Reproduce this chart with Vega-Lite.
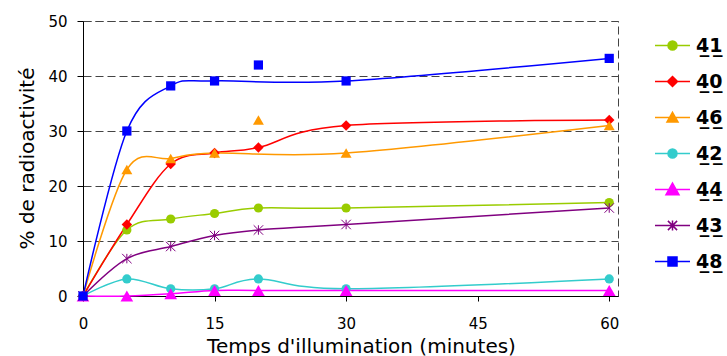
{
  "$schema": "https://vega.github.io/schema/vega-lite/v6.json",
  "width": 535,
  "height": 275,
  "autosize": {"type": "none"},
  "padding": {"left": 83, "top": 21, "right": 109, "bottom": 60},
  "background": "white",
  "config": {
    "view": {"stroke": "#444444", "strokeDash": [8, 4], "strokeWidth": 1},
    "font": "DejaVu Sans"
  },
  "data": {
    "values": [
      {"s": "41", "t": 0, "v": 0, "f": 0},
      {"s": "41", "t": 5, "v": 12, "f": 12},
      {"s": "41", "t": 10, "v": 14, "f": 14},
      {"s": "41", "t": 15, "v": 15, "f": 15},
      {"s": "41", "t": 20, "v": 16, "f": 16},
      {"s": "41", "t": 30, "v": 16, "f": 16},
      {"s": "41", "t": 60, "v": 17, "f": 17},
      {"s": "40", "t": 0, "v": 0, "f": 0},
      {"s": "40", "t": 5, "v": 13, "f": 13},
      {"s": "40", "t": 10, "v": 24, "f": 24},
      {"s": "40", "t": 15, "v": 26, "f": 26},
      {"s": "40", "t": 20, "v": 27, "f": 27},
      {"s": "40", "t": 30, "v": 31, "f": 31},
      {"s": "40", "t": 60, "v": 32, "f": 32},
      {"s": "46", "t": 0, "v": 0, "f": 0},
      {"s": "46", "t": 5, "v": 23, "f": 23},
      {"s": "46", "t": 10, "v": 25, "f": 25},
      {"s": "46", "t": 15, "v": 26, "f": 26},
      {"s": "46", "t": 20, "v": 32, "f": null},
      {"s": "46", "t": 30, "v": 26, "f": 26},
      {"s": "46", "t": 60, "v": 31, "f": 31},
      {"s": "42", "t": 0, "v": 0, "f": 0},
      {"s": "42", "t": 5, "v": 3.1, "f": 3.1},
      {"s": "42", "t": 10, "v": 1.3, "f": 1.3},
      {"s": "42", "t": 15, "v": 1.3, "f": 1.3},
      {"s": "42", "t": 20, "v": 3.1, "f": 3.1},
      {"s": "42", "t": 30, "v": 1.3, "f": 1.3},
      {"s": "42", "t": 60, "v": 3.1, "f": 3.1},
      {"s": "44", "t": 0, "v": 0, "f": 0},
      {"s": "44", "t": 5, "v": 0, "f": 0},
      {"s": "44", "t": 10, "v": 0.4, "f": 0.4},
      {"s": "44", "t": 15, "v": 1, "f": 1},
      {"s": "44", "t": 20, "v": 1, "f": 1},
      {"s": "44", "t": 30, "v": 1, "f": 1},
      {"s": "44", "t": 60, "v": 1, "f": 1},
      {"s": "43", "t": 0, "v": 0, "f": 0},
      {"s": "43", "t": 5, "v": 6.8, "f": 6.8},
      {"s": "43", "t": 10, "v": 9, "f": 9},
      {"s": "43", "t": 15, "v": 11, "f": 11},
      {"s": "43", "t": 20, "v": 12, "f": 12},
      {"s": "43", "t": 30, "v": 13, "f": 13},
      {"s": "43", "t": 60, "v": 16, "f": 16},
      {"s": "48", "t": 0, "v": 0, "f": 0},
      {"s": "48", "t": 5, "v": 30, "f": 30},
      {"s": "48", "t": 10, "v": 38.2, "f": 38.2},
      {"s": "48", "t": 15, "v": 39.1, "f": 39.1},
      {"s": "48", "t": 20, "v": 42, "f": null},
      {"s": "48", "t": 30, "v": 39.1, "f": 39.1},
      {"s": "48", "t": 60, "v": 43.2, "f": 43.2}
    ]
  },
  "encoding": {
    "x": {
      "field": "t", "type": "quantitative",
      "scale": {"domain": [0, 61], "nice": false, "zero": false},
      "axis": {
        "values": [0, 15, 30, 45, 60],
        "grid": false,
        "domainColor": "#000000", "domainWidth": 1,
        "tickColor": "#000000", "tickSize": 5,
        "labelFont": "DejaVu Sans", "labelFontSize": 15, "labelColor": "#000000",
        "labelPadding": 15, "labelFlush": false,
        "title": "Temps d'illumination (minutes)",
        "titleFont": "DejaVu Sans", "titleFontSize": 20, "titleFontWeight": "normal", "titleColor": "#000000",
        "titleX": 278, "titleY": 56, "titleBaseline": "alphabetic", "titleAlign": "center"
      }
    },
    "y": {
      "field": "v", "type": "quantitative",
      "scale": {"domain": [0, 50], "nice": false},
      "axis": {
        "values": [0, 10, 20, 30, 40, 50],
        "grid": true, "gridDash": [8, 4], "gridColor": "#444444", "gridWidth": 1, "gridOpacity": 1,
        "domainColor": "#000000", "domainWidth": 1,
        "tickColor": "#000000", "tickSize": 6,
        "labelFont": "DejaVu Sans", "labelFontSize": 15, "labelColor": "#000000",
        "labelPadding": 10,
        "title": "% de radioactivité",
        "titleFont": "DejaVu Sans", "titleFontSize": 20, "titleFontWeight": "normal", "titleColor": "#000000",
        "titleX": -50, "titleY": 137, "titleBaseline": "alphabetic", "titleAlign": "center", "titleAngle": 270
      }
    },
    "color": {
      "field": "s", "type": "nominal",
      "scale": {
        "domain": ["41", "40", "46", "42", "44", "43", "48"],
        "range": ["#99CC00", "#FF0000", "#FF9900", "#33CCCC", "#FF00FF", "#800080", "#0000FF"]
      },
      "legend": {
        "orient": "none", "legendX": 580, "legendY": 15,
        "title": null,
        "symbolSize": 16,
        "labelFont": "DejaVu Sans", "labelFontSize": 19, "labelFontWeight": "bold", "labelColor": "#000000",
        "labelOffset": 14,
        "rowPadding": 16,
        "labelExpr": "substring(datum.label,0,1) + '\u0332' + substring(datum.label,1,2) + '\u0332'",
        "encode": {
          "symbols": {
            "update": {
              "shape": {"signal": "datum.value == '41' || datum.value == '42' ? 'M-8.75,0H8.75M-2.25,0A2.25,2.25,0,1,0,2.25,0A2.25,2.25,0,1,0,-2.25,0Z' : datum.value == '40' ? 'M-8.75,0H8.75M0,-2.5L2.5,0L0,2.5L-2.5,0Z' : datum.value == '46' ? 'M-8.75,0H8.75M0,-2.6L2.75,2.2L-2.75,2.2Z' : datum.value == '44' ? 'M-8.75,0H8.75M0,-3.2L3.25,2.6L-3.25,2.6Z' : datum.value == '43' ? 'M-8.75,0H8.75M0,-2.5V2.5M-2.3,-2.3L2.3,2.3M-2.3,2.3L2.3,-2.3' : 'M-8.75,0H8.75M-2.25,-2.25H2.25V2.25H-2.25Z'"},
              "size": {"value": 16},
              "fill": {"scale": "color", "field": "value"},
              "stroke": {"scale": "color", "field": "value"},
              "strokeWidth": {"value": 1.5},
              "opacity": {"value": 1},
              "fillOpacity": {"value": 1},
              "strokeOpacity": {"value": 1}
            }
          }
        }
      }
    }
  },
  "layer": [
    {
      "transform": [{"filter": "datum.f != null"}],
      "mark": {"type": "line", "interpolate": "cardinal", "strokeWidth": 1.5},
      "encoding": {"y": {"field": "f", "type": "quantitative"}}
    },
    {
      "transform": [{"filter": "datum.s == '41' || datum.s == '42'"}],
      "mark": {"type": "point", "shape": "circle", "filled": true, "opacity": 1, "size": 85}
    },
    {
      "transform": [{"filter": "datum.s == '40'"}],
      "mark": {"type": "point", "shape": "diamond", "filled": true, "opacity": 1, "size": 110}
    },
    {
      "transform": [{"filter": "datum.s == '46'"}],
      "mark": {"type": "point", "shape": "triangle-up", "filled": true, "opacity": 1, "size": 120}
    },
    {
      "transform": [{"filter": "datum.s == '44'"}],
      "mark": {"type": "point", "shape": "triangle-up", "filled": true, "opacity": 1, "size": 160}
    },
    {
      "transform": [{"filter": "datum.s == '43'"}],
      "mark": {"type": "point", "shape": "M0,-1V1M-1,-1L1,1M-1,1L1,-1", "filled": false, "opacity": 1, "size": 90, "strokeWidth": 1}
    },
    {
      "transform": [{"filter": "datum.s == '48'"}],
      "mark": {"type": "point", "shape": "square", "filled": true, "opacity": 1, "size": 85}
    }
  ]
}
